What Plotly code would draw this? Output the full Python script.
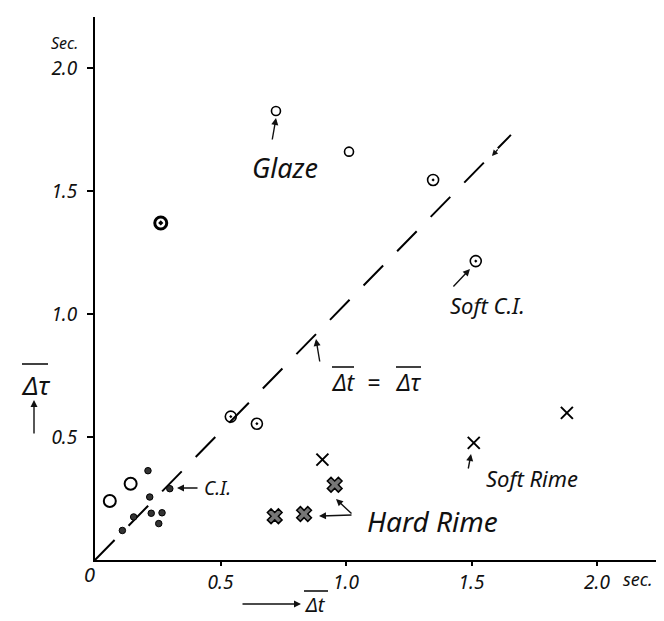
import plotly.graph_objects as go

# ---- data ----
glaze_x = [0.721, 1.012]
glaze_y = [1.825, 1.66]
dotted_x = [1.347, 1.517, 0.541, 0.645]
dotted_y = [1.545, 1.215, 0.583, 0.554]
bold_x = [0.262]
bold_y = [1.37]
open_x = [0.059, 0.142]
open_y = [0.24, 0.31]
ci_x = [0.211, 0.218, 0.298, 0.154, 0.109, 0.224, 0.267, 0.254]
ci_y = [0.363, 0.256, 0.29, 0.175, 0.12, 0.19, 0.192, 0.148]
hard_x = [0.716, 0.833, 0.955]
hard_y = [0.178, 0.187, 0.306]
soft_x = [0.906, 1.509, 1.880]
soft_y = [0.408, 0.476, 0.598]
line_x = [0.0, 1.657]
line_y = [0.0, 1.728]
xtick_vals = [0.5, 1.0, 1.5, 2.0]
xtick_text = ["0.5", "1.0", "1.5", "2.0"]
ytick_vals = [0.5, 1.0, 1.5, 2.0]
ytick_text = ["0.5", "1.0", "1.5", "2.0"]

W, H = 664, 621
L, R, T, B = 87, 2, 9, 69
PW, PH = W - L - R, H - T - B
FONT = "Noto Sans"


def px(X):
    return (X - L) / PW


def py(Y):
    return (H - B - Y) / PH


fig = go.Figure()
fig.add_trace(go.Scatter(x=line_x, y=line_y, mode="lines",
                         line=dict(color="black", width=2, dash="28px,20px"),
                         hoverinfo="skip"))
fig.add_trace(go.Scatter(x=glaze_x, y=glaze_y, mode="markers",
                         marker=dict(symbol="circle-open", size=9, color="black",
                                     line=dict(width=1.6, color="black"))))
fig.add_trace(go.Scatter(x=dotted_x, y=dotted_y, mode="markers",
                         marker=dict(symbol="circle-open-dot", size=11, color="black",
                                     line=dict(width=1.6, color="black"))))
fig.add_trace(go.Scatter(x=bold_x, y=bold_y, mode="markers",
                         marker=dict(symbol="circle-open-dot", size=12, color="black",
                                     line=dict(width=3, color="black"))))
fig.add_trace(go.Scatter(x=open_x, y=open_y, mode="markers",
                         marker=dict(symbol="circle-open", size=12, color="black",
                                     line=dict(width=2, color="black"))))
fig.add_trace(go.Scatter(x=ci_x, y=ci_y, mode="markers",
                         marker=dict(symbol="circle", size=6.5, color="#333",
                                     line=dict(width=1, color="black"))))
fig.add_trace(go.Scatter(x=hard_x, y=hard_y, mode="markers",
                         marker=dict(symbol="x", size=13, color="#777",
                                     line=dict(width=1.5, color="black"))))
fig.add_trace(go.Scatter(x=soft_x, y=soft_y, mode="markers",
                         marker=dict(symbol="x-thin-open", size=12, color="black",
                                     line=dict(width=2, color="black"))))

ann = []


def text(t, X, Y, size, xanchor="center"):
    ann.append(dict(text=t, x=px(X), y=py(Y), xref="paper", yref="paper",
                    xanchor=xanchor, yanchor="middle", showarrow=False,
                    font=dict(family=FONT, size=size, color="#111", style="italic")))


def arrow(x0, y0, x1, y1, w=1.4, head=2):
    ann.append(dict(text="", x=px(x1), y=py(y1), xref="paper", yref="paper",
                    ax=x0 - x1, ay=y0 - y1, axref="pixel", ayref="pixel",
                    showarrow=True, arrowhead=head, arrowsize=1, arrowwidth=w,
                    arrowcolor="#111"))


text("Sec.", 56, 35, 16)
text("0", 81, 566, 20)
text("sec.", 630, 571, 18)
text("Glaze", 277, 160, 27)
text("Soft C.I.", 479, 297, 22)
text("Soft Rime", 524, 470, 22)
text("Hard Rime", 424, 513, 28)
text("C.I.", 209, 480, 19)
text("Δt", 335, 374, 23)
text("=", 365, 374, 23)
text("Δτ", 400, 374, 23)
text("Δτ", 27, 377, 26)
text("Δt", 307, 596, 20)

arrow(264, 133, 268, 110)
arrow(444, 280, 462, 261)
arrow(460, 462, 463, 446)
arrow(345, 507, 311, 508)
arrow(345, 507, 328, 491)
arrow(191, 480, 169, 480)
arrow(312, 355, 308, 331)
arrow(26, 427, 26, 392)
arrow(233, 596, 293, 596)
arrow(491, 140, 484, 148, w=1.2)

shapes = []
for (x0, x1, y) in [(324, 346, 359), (388, 413, 359), (14, 40, 356), (296, 320, 583)]:
    shapes.append(dict(type="line", xref="paper", yref="paper",
                       x0=px(x0), x1=px(x1), y0=py(y), y1=py(y),
                       line=dict(color="#111", width=1.6)))

axis_common = dict(showline=True, linecolor="black", linewidth=2, showgrid=False,
                   zeroline=False, ticks="outside", tickcolor="black", tickwidth=1.5,
                   tickfont=dict(family=FONT, size=19, color="#111", style="italic"))
fig.update_layout(
    width=W, height=H,
    margin=dict(l=L, r=R, t=T, b=B, pad=0),
    paper_bgcolor="white", plot_bgcolor="white",
    showlegend=False,
    xaxis=dict(range=[0, PW / 251], tickvals=xtick_vals, ticktext=xtick_text,
               ticklen=4, **axis_common),
    yaxis=dict(range=[0, PH / 246], tickvals=ytick_vals, ticktext=ytick_text,
               ticklen=6, ticklabelstandoff=6, **axis_common),
    annotations=ann, shapes=shapes,
)
fig.write_html("out.html")
